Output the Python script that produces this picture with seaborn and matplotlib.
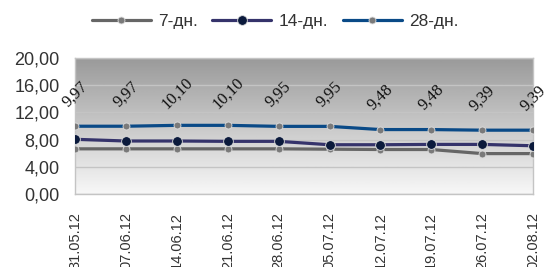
import numpy as np
import pandas as pd
import seaborn as sns
import matplotlib.pyplot as plt

# data
dates = ["31.05.12", "07.06.12", "14.06.12", "21.06.12", "28.06.12",
         "05.07.12", "12.07.12", "19.07.12", "26.07.12", "02.08.12"]
series_names = ["7-дн.", "14-дн.", "28-дн."]
d7 = [6.65, 6.65, 6.65, 6.65, 6.65, 6.60, 6.55, 6.55, 5.95, 5.95]
d14 = [8.05, 7.80, 7.80, 7.75, 7.75, 7.25, 7.25, 7.30, 7.30, 7.10]
d28 = [9.97, 9.97, 10.10, 10.10, 9.95, 9.95, 9.48, 9.48, 9.39, 9.39]
yticks = [0, 4, 8, 12, 16, 20]


def main():
    sns.set_style("white")
    plt.rcParams["font.family"] = ["Liberation Sans", "DejaVu Sans"]

    df = pd.DataFrame({
        "x": list(range(len(dates))) * 3,
        "value": d7 + d14 + d28,
        "series": [n for n in series_names for _ in dates],
    })

    fig = plt.figure(figsize=(5.44, 2.67), dpi=100)
    ax = fig.add_axes([0.138, 0.273, 0.842, 0.51])

    # gray gradient background of the plot area
    grad = np.linspace(0.97, 0.6, 256).reshape(-1, 1)
    ax.imshow(grad, extent=[0, len(dates) - 1, 0, 20], aspect="auto",
              cmap="gray", vmin=0, vmax=1, origin="lower", zorder=0)

    colors = {"7-дн.": "#666666", "14-дн.": "#35336b", "28-дн.": "#0a4a87"}
    mfc = {"7-дн.": "#7a7a7a", "14-дн.": "#0b1a3c", "28-дн.": "#7a7a7a"}
    msize = {"7-дн.": 5, "14-дн.": 7, "28-дн.": 5}

    for name in series_names:
        sub = df[df["series"] == name]
        sns.lineplot(data=sub, x="x", y="value", ax=ax, color=colors[name],
                     linewidth=2.3, marker="o", markersize=msize[name],
                     markerfacecolor=mfc[name], markeredgecolor="#dddddd",
                     markeredgewidth=0.6, label=name, zorder=3)

    # value labels above the 28-day line
    for i, v in enumerate(d28):
        ax.annotate(f"{v:.2f}".replace(".", ","), (i, v), xytext=(0, 23),
                    textcoords="offset points", ha="center", va="center",
                    rotation=45, fontsize=12, family="Liberation Serif",
                    color="#111111", zorder=4, annotation_clip=False)

    ax.set_xlim(0, len(dates) - 1)
    ax.set_ylim(0, 20)
    ax.set_yticks(yticks)
    ax.set_yticklabels([f"{t:.2f}".replace(".", ",") for t in yticks],
                       fontsize=13, color="#333333")
    ax.set_xticks(range(len(dates)))
    ax.set_xticklabels(dates, rotation=90, fontsize=10.5, color="#333333")
    ax.tick_params(axis="x", length=8, color="#bbbbbb", pad=5)
    ax.tick_params(axis="y", length=8, color="#bbbbbb", pad=3)
    ax.set_xlabel("")
    ax.set_ylabel("")
    ax.grid(axis="y", color="#c4c4c4", linewidth=1)
    ax.set_axisbelow(False)
    for s in ax.spines.values():
        s.set_color("#c4c4c4")
        s.set_linewidth(1)

    ax.legend(loc="center", bbox_to_anchor=(0.506, 0.918),
              bbox_transform=fig.transFigure, ncol=3, frameon=False,
              fontsize=12.5, handlelength=3.4, columnspacing=0.8,
              handletextpad=0.45, labelcolor="#333333")

    fig.savefig("out.png", dpi=100)


if __name__ == "__main__":
    main()
